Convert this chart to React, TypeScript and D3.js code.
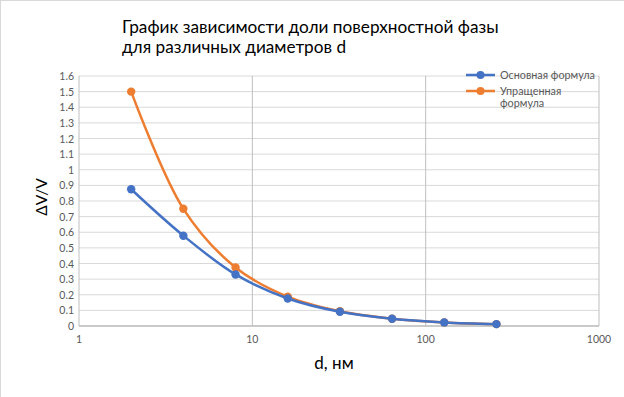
import React from 'react';
import * as d3 from 'd3';

const WIDTH = 624;
const HEIGHT = 397;
const MARGIN = { top: 76, right: 25, bottom: 71, left: 79 };

const TITLE_LINES = ['График зависимости доли поверхностной фазы', 'для различных диаметров d'];
const X_TITLE = 'd, нм';
const Y_TITLE = 'ΔV/V';

const diameters = [2, 4, 8, 16, 32, 64, 128, 256];
const basicFormula = [0.875, 0.578, 0.33, 0.176, 0.091, 0.046, 0.023, 0.012];
const simpleFormula = [1.5, 0.75, 0.375, 0.1875, 0.094, 0.047, 0.023, 0.012];

const xTicks = [1, 10, 100, 1000];
const yTicks = d3.range(0, 17).map((i) => i / 10);

const SERIES = [
  { name: ['Упращенная', 'формула'], values: simpleFormula, color: '#ED7D31' },
  { name: ['Основная формула'], values: basicFormula, color: '#4472C4' },
];

const FONT = 'Lato, "Open Sans", sans-serif';

export default function App() {
  const boundsWidth = WIDTH - MARGIN.left - MARGIN.right;
  const boundsHeight = HEIGHT - MARGIN.top - MARGIN.bottom;

  const xScale = d3.scaleLog().domain([1, 1000]).range([0, boundsWidth]);
  const yScale = d3.scaleLinear().domain([0, 1.6]).range([boundsHeight, 0]);

  const line = d3
    .line<number>()
    .x((_, i) => xScale(diameters[i]))
    .y((v) => yScale(v))
    .curve(d3.curveCatmullRom.alpha(0.5));

  return (
    <div style={{ position: 'fixed', left: 0, top: 0 }}>
      <svg width={WIDTH} height={HEIGHT} style={{ display: 'block', background: '#fff' }}>
        <rect x={0.5} y={0.5} width={WIDTH + 10} height={HEIGHT + 10} fill="#fff" stroke="#d9d9d9" />
        <text fontFamily={FONT} fontSize={17.2} fill="#000">
          {TITLE_LINES.map((t, i) => (
            <tspan key={i} x={122} y={33 + i * 20}>
              {t}
            </tspan>
          ))}
        </text>
        <g transform={`translate(${MARGIN.left},${MARGIN.top})`}>
          {yTicks.map((t, i) => (
            <g key={i}>
              <line x1={0} x2={boundsWidth} y1={yScale(t)} y2={yScale(t)} stroke="#d9d9d9" strokeWidth={1} />
              <text
                x={-5}
                y={yScale(t)}
                textAnchor="end"
                dominantBaseline="central"
                fontFamily={FONT}
                fontSize={10.5}
                fill="#595959"
              >
                {t}
              </text>
            </g>
          ))}
          {xTicks.map((t, i) => (
            <g key={i}>
              <line x1={xScale(t)} x2={xScale(t)} y1={0} y2={boundsHeight} stroke="#bfbfbf" strokeWidth={1} />
              <text
                x={xScale(t)}
                y={boundsHeight + 17}
                textAnchor="middle"
                fontFamily={FONT}
                fontSize={10.5}
                fill="#595959"
              >
                {t}
              </text>
            </g>
          ))}
          <line x1={0} x2={boundsWidth} y1={boundsHeight} y2={boundsHeight} stroke="#bfbfbf" strokeWidth={1.5} />
          {SERIES.map((s, si) => (
            <g key={si}>
              <path d={line(s.values) || ''} fill="none" stroke={s.color} strokeWidth={2.5} />
              {s.values.map((v, i) => (
                <circle key={i} cx={xScale(diameters[i])} cy={yScale(v)} r={4.2} fill={s.color} />
              ))}
            </g>
          ))}
        </g>
        {[SERIES[1], SERIES[0]].map((s, i) => (
          <g key={i} transform={`translate(466,${75 + i * 16})`}>
            <line x1={0} x2={29} y1={0} y2={0} stroke={s.color} strokeWidth={2.5} />
            <circle cx={14.5} cy={0} r={4} fill={s.color} />
            <text fontFamily={FONT} fontSize={10.8} fill="#595959">
              {s.name.map((n, j) => (
                <tspan key={j} x={34} y={3.5 + j * 12.5}>
                  {n}
                </tspan>
              ))}
            </text>
          </g>
        ))}
        <text
          transform={`translate(47,${MARGIN.top + boundsHeight / 2 - 4}) rotate(-90)`}
          textAnchor="middle"
          fontFamily={FONT}
          fontSize={15.5}
          fill="#000"
        >
          {Y_TITLE}
        </text>
        <text x={334} y={369} textAnchor="middle" fontFamily={FONT} fontSize={17} fill="#000">
          {X_TITLE}
        </text>
      </svg>
    </div>
  );
}
